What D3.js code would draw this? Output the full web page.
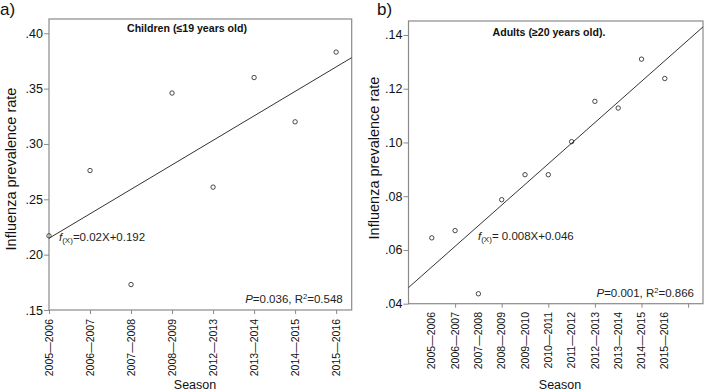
<!DOCTYPE html>
<html>
<head>
<meta charset="utf-8">
<script src="https://cdn.jsdelivr.net/npm/d3@7"></script>
<style>
  body { margin: 0; background: #fff; }
  svg { display: block; font-family: Arial, "Liberation Sans", sans-serif; }
</style>
</head>
<body>
<div id="wrapper"></div>
<script>
// panel a - children
const seasonsA = ["2005\u20142006", "2006\u20142007", "2007\u20142008", "2008\u20142009",
                  "2012\u20142013", "2013\u20142014", "2014\u20142015", "2015\u20142016"];
const valuesA = [0.217, 0.276, 0.173, 0.346, 0.261, 0.360, 0.320, 0.383];
const yTicksA = [0.15, 0.20, 0.25, 0.30, 0.35, 0.40];
const fitA = [[0, 0.2148], [7.38, 0.378]];

// panel b - adults
const seasonsB = ["2005\u20142006", "2006\u20142007", "2007\u20142008", "2008\u20142009",
                  "2009\u20142010", "2010\u20142011", "2011\u20142012", "2012\u20142013",
                  "2013\u20142014", "2014\u20142015", "2015\u20142016"];
const valuesB = [0.0645, 0.0672, 0.0437, 0.0787, 0.0880, 0.0880, 0.1003, 0.1153, 0.1128, 0.1310, 0.1238];
const yTicksB = [0.04, 0.06, 0.08, 0.10, 0.12, 0.14];
const xTickMarksB = [2, 4, 6, 8, 10, 12];
const fitB = [[0, 0.046], [12.64, 0.143]];

const svg = d3.select("#wrapper").append("svg")
    .attr("width", 707)
    .attr("height", 392);

const boxColor = "#8a8a8a";
const markColor = "#333";

function drawPanel(p) {
    const x = d3.scaleLinear().domain(p.xDomain).range([p.left, p.right]);
    const y = d3.scaleLinear().domain(p.yDomain).range([p.bottom, p.top]);
    const g = svg.append("g");

    g.append("rect")
        .attr("x", p.left).attr("y", p.top)
        .attr("width", p.right - p.left).attr("height", p.bottom - p.top)
        .attr("fill", "none").attr("stroke", boxColor).attr("stroke-width", 1.2);

    // y axis
    const yAxis = g.append("g")
        .attr("transform", `translate(${p.left},0)`)
        .call(d3.axisLeft(y).tickValues(p.yTicks).tickSize(5).tickPadding(1)
            .tickFormat(d => d3.format(".2f")(d).replace(/^0/, "")));
    yAxis.select(".domain").remove();
    yAxis.selectAll("line").attr("stroke", boxColor);
    yAxis.selectAll("text").attr("font-size", 12.5).attr("fill", "#111")
        .attr("font-family", "Arial, 'Liberation Sans', sans-serif");

    // x tick marks
    const xMarks = g.append("g")
        .attr("transform", `translate(0,${p.bottom})`)
        .call(d3.axisBottom(x).tickValues(p.xTickMarks).tickSize(4).tickFormat(""));
    xMarks.select(".domain").remove();
    xMarks.selectAll("line").attr("stroke", boxColor);

    // x labels
    g.selectAll(".xlab")
        .data(p.seasons)
        .join("text")
        .attr("transform", (d, i) => `translate(${x(i + p.xStart)},${p.labelTop}) rotate(-90)`)
        .attr("text-anchor", "end")
        .attr("dy", "0.35em")
        .attr("font-size", 10.5)
        .attr("fill", "#111")
        .text(d => d);

    // fit line
    g.append("path")
        .attr("d", d3.line().x(d => x(d[0])).y(d => y(d[1]))(p.fit))
        .attr("fill", "none")
        .attr("stroke", markColor)
        .attr("stroke-width", 1);

    // points
    g.selectAll("circle")
        .data(p.values)
        .join("circle")
        .attr("cx", (d, i) => x(i + p.xStart))
        .attr("cy", d => y(d))
        .attr("r", 2.2)
        .attr("fill", "none")
        .attr("stroke", markColor)
        .attr("stroke-width", 0.9);

    // title
    g.append("text")
        .attr("x", p.titleX).attr("y", p.titleY)
        .attr("text-anchor", "middle")
        .attr("font-size", 10.6)
        .attr("font-weight", "bold")
        .attr("fill", "#111")
        .text(p.title);

    // equation
    const eq = g.append("text")
        .attr("x", p.eqX).attr("y", p.eqY)
        .attr("font-size", 11.5)
        .attr("fill", "#222");
    eq.append("tspan").attr("font-style", "italic").text("f");
    eq.append("tspan").attr("font-size", 8).attr("dy", 2).text("(X)");
    eq.append("tspan").attr("dy", -2).text(p.eq);

    // stats
    const st = g.append("text")
        .attr("x", p.right - 9).attr("y", p.statY)
        .attr("text-anchor", "end")
        .attr("font-size", 11.5)
        .attr("fill", "#222");
    st.append("tspan").attr("font-style", "italic").text("P");
    st.append("tspan").text(p.stat1);
    st.append("tspan").attr("font-size", 7.5).attr("dy", -4).text("2");
    st.append("tspan").attr("dy", 4).text(p.stat2);

    // axis titles
    g.append("text")
        .attr("transform", `translate(${p.yLabelX},${p.yLabelY}) rotate(-90)`)
        .attr("text-anchor", "middle")
        .attr("font-size", 14.5)
        .attr("fill", "#111")
        .text("Influenza prevalence rate");

    g.append("text")
        .attr("x", p.seasonX).attr("y", 389)
        .attr("text-anchor", "middle")
        .attr("font-size", 12.5)
        .attr("fill", "#111")
        .text("Season");

    svg.append("text")
        .attr("x", p.tagX).attr("y", 15)
        .attr("font-size", 17)
        .attr("fill", "#111")
        .text(p.tag);
}

drawPanel({
    left: 49, right: 351.7, top: 19, bottom: 310,
    xDomain: [0, 7.38], yDomain: [0.15, 0.4129],
    yTicks: yTicksA, xTickMarks: d3.range(seasonsA.length),
    seasons: seasonsA, values: valuesA, xStart: 0, fit: fitA,
    labelTop: 319,
    title: "Children (\u226419 years old)", titleX: 187, titleY: 32,
    eq: "=0.02X+0.192", eqX: 59, eqY: 241,
    stat1: "=0.036, R", stat2: "=0.548", statY: 303,
    yLabelX: 16, yLabelY: 169, seasonX: 195,
    tag: "a)", tagX: 0
});

drawPanel({
    left: 408.5, right: 703, top: 21, bottom: 303.7,
    xDomain: [0, 12.64], yDomain: [0.04, 0.1452],
    yTicks: yTicksB, xTickMarks: xTickMarksB,
    seasons: seasonsB, values: valuesB, xStart: 1, fit: fitB,
    labelTop: 312,
    title: "Adults (\u226520 years old).", titleX: 549, titleY: 36,
    eq: "= 0.008X+0.046", eqX: 478, eqY: 240,
    stat1: "=0.001, R", stat2: "=0.866", statY: 297,
    yLabelX: 379, yLabelY: 158, seasonX: 560,
    tag: "b)", tagX: 377
});
</script>
</body>
</html>
